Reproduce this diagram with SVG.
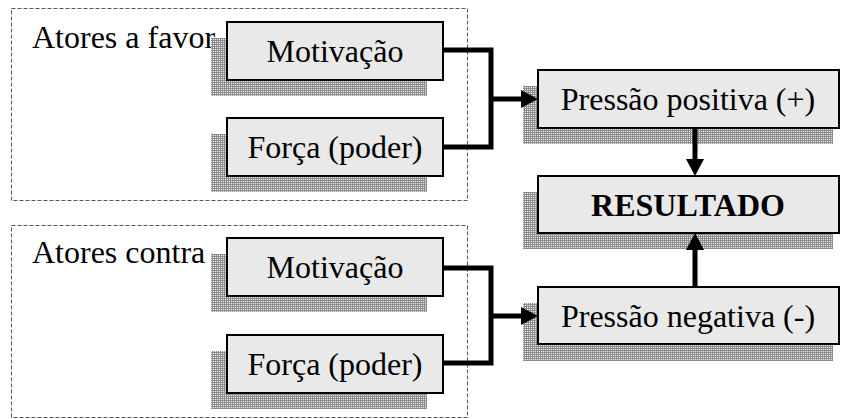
<svg xmlns="http://www.w3.org/2000/svg" width="841" height="419" viewBox="0 0 841 419">
  <defs>
    <pattern id="dots" width="2" height="2" patternUnits="userSpaceOnUse">
      <rect width="2" height="2" fill="#8c8c8c"/>
      <rect x="1" y="1" width="1" height="1" fill="#f0f0f0"/>
    </pattern>
    <marker id="arrow" markerUnits="userSpaceOnUse" viewBox="0 0 17 18" refX="0" refY="9" markerWidth="17" markerHeight="18" orient="auto">
      <path d="M0,0 L17,9 L0,18 Z" fill="#000"/>
    </marker>
  </defs>
  <style>
    .group { fill: none; stroke: #555; stroke-width: 1; stroke-dasharray: 4 2; }
    .shadow { fill: url(#dots); stroke: none; }
    .box { fill: #e9e9e9; stroke: #000; stroke-width: 2; }
    text { font-family: 'Liberation Serif', 'DejaVu Serif', serif; font-size: 32px; fill: #000; }
    .c { text-anchor: middle; }
    .b { font-weight: bold; }
    .conn { fill: none; stroke: #000; stroke-width: 5; stroke-linejoin: miter; }
  </style>
  <rect width="841" height="419" fill="#fff"/>

  <g id="grupo-favor">
    <rect class="group" x="11.5" y="8.5" width="456" height="192"/>
    <text x="32" y="48" font-family="Liberation Serif, serif">Atores a favor</text>
  </g>
  <g id="grupo-contra">
    <rect class="group" x="11.5" y="225.5" width="456" height="192"/>
    <text x="32" y="263" font-family="Liberation Serif, serif">Atores contra</text>
  </g>

  <g id="motivacao-favor">
    <rect class="shadow" x="211" y="38" width="216" height="58"/>
    <rect class="box" x="227" y="22" width="216" height="58"/>
    <text class="c" x="335" y="62">Motivação</text>
  </g>
  <g id="forca-favor">
    <rect class="shadow" x="211" y="134" width="216" height="58"/>
    <rect class="box" x="227" y="118" width="216" height="58"/>
    <text class="c" x="335" y="158">Força (poder)</text>
  </g>
  <g id="motivacao-contra">
    <rect class="shadow" x="211" y="254" width="216" height="58"/>
    <rect class="box" x="227" y="238" width="216" height="58"/>
    <text class="c" x="335" y="278">Motivação</text>
  </g>
  <g id="forca-contra">
    <rect class="shadow" x="211" y="351" width="216" height="58"/>
    <rect class="box" x="227" y="335" width="216" height="58"/>
    <text class="c" x="335" y="375">Força (poder)</text>
  </g>

  <g id="pressao-positiva">
    <rect class="shadow" x="523" y="86" width="310" height="58"/>
    <rect class="box" x="538" y="70" width="301" height="58"/>
    <text class="c" x="688" y="110">Pressão positiva (+)</text>
  </g>
  <g id="resultado">
    <rect class="shadow" x="523" y="192" width="310" height="57"/>
    <rect class="box" x="538" y="176" width="301" height="57"/>
    <text class="c b" x="688" y="216">RESULTADO</text>
  </g>
  <g id="pressao-negativa">
    <rect class="shadow" x="523" y="303" width="310" height="58"/>
    <rect class="box" x="538" y="287" width="301" height="57"/>
    <text class="c" x="688" y="327">Pressão negativa (-)</text>
  </g>

  <g id="connectors">
    <polyline class="conn" points="444,50 491,50 491,147 444,147"/>
    <line class="conn" x1="491" y1="99" x2="521" y2="99" marker-end="url(#arrow)"/>
    <polyline class="conn" points="444,268 491,268 491,363 444,363"/>
    <line class="conn" x1="491" y1="316" x2="521" y2="316" marker-end="url(#arrow)"/>
    <line class="conn" x1="695" y1="129" x2="695" y2="159" marker-end="url(#arrow)"/>
    <line class="conn" x1="695" y1="286" x2="695" y2="250" marker-end="url(#arrow)"/>
  </g>
</svg>
